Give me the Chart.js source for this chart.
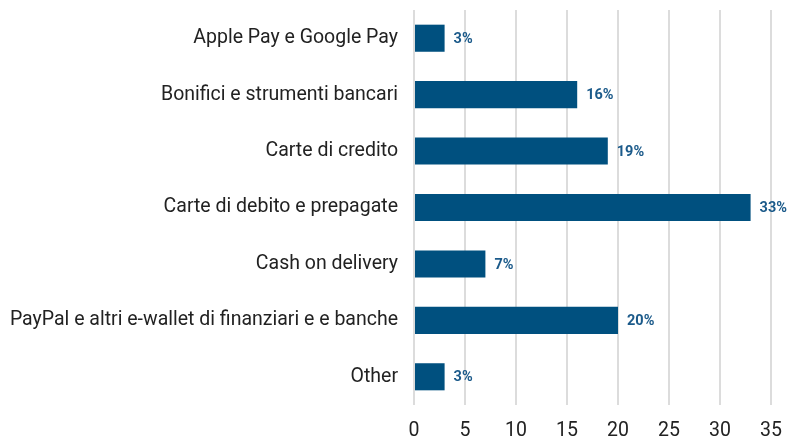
<!DOCTYPE html>
<html>
<head>
<meta charset="utf-8">
<script src="https://cdn.jsdelivr.net/npm/chart.js@4/dist/chart.umd.min.js"></script>
<style>
  html, body { margin: 0; padding: 0; background: #fff; overflow: hidden; }
  #wrap { position: relative; width: 788px; height: 443px; }
</style>
</head>
<body>
<div id="wrap"><canvas id="chart"></canvas></div>
<script>
// Payment methods and their share (%)
const categories = [
  'Apple Pay e Google Pay',
  'Bonifici e strumenti bancari',
  'Carte di credito',
  'Carte di debito e prepagate',
  'Cash on delivery',
  'PayPal e altri e-wallet di finanziari e e banche',
  'Other'
];
const shares = [3, 16, 19, 33, 7, 20, 3];
const xTicks = [0, 5, 10, 15, 20, 25, 30, 35];

const barColor = '#00507f';
const labelColor = '#1b5a8a';

// Writes "n%" just past the end of every bar
const valueLabels = {
  id: 'valueLabels',
  afterDatasetsDraw(chart) {
    const { ctx } = chart;
    const meta = chart.getDatasetMeta(0);
    ctx.save();
    ctx.font = 'bold 14.5px Roboto';
    ctx.fillStyle = labelColor;
    ctx.textAlign = 'left';
    ctx.textBaseline = 'middle';
    meta.data.forEach((bar, i) => {
      ctx.fillText(shares[i] + '%', bar.x + 9, bar.y + 1);
    });
    ctx.restore();
  }
};

function clearOverhang(scale) {
  scale.paddingTop = 0;
  scale.paddingBottom = 0;
  scale.paddingLeft = 0;
  scale.paddingRight = 0;
}

new Chart(document.getElementById('chart'), {
  type: 'bar',
  data: {
    labels: categories,
    datasets: [{
      data: shares,
      backgroundColor: barColor,
      borderWidth: 0,
      barPercentage: 0.48,
      categoryPercentage: 1
    }]
  },
  options: {
    indexAxis: 'y',
    responsive: true,
    maintainAspectRatio: false,
    animation: false,
    layout: { padding: { top: 10, right: 17, left: 10, bottom: 0 } },
    plugins: {
      legend: { display: false },
      tooltip: { enabled: false }
    },
    scales: {
      x: {
        min: 0,
        max: 35,
        afterBuildTicks(axis) { axis.ticks = xTicks.map(v => ({ value: v })); },
        afterFit(scale) { clearOverhang(scale); scale.height = 38; },
        border: { display: false },
        grid: { color: '#dcdcdc', lineWidth: 2, drawTicks: false },
        ticks: {
          padding: 14,
          color: '#222',
          font: { family: 'Roboto', size: 19.5 }
        }
      },
      y: {
        afterFit(scale) { clearOverhang(scale); scale.width = 404; },
        border: { display: false },
        grid: { display: false, drawTicks: false },
        ticks: {
          padding: 16,
          color: '#222',
          font: { family: 'Roboto', size: 19.5 }
        }
      }
    }
  },
  plugins: [valueLabels]
});
</script>
</body>
</html>
